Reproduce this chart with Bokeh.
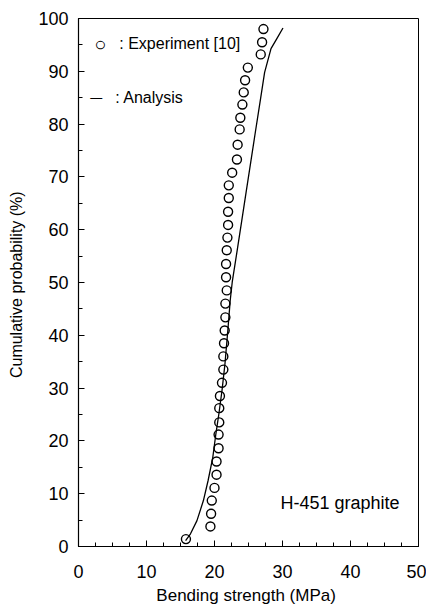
from bokeh.plotting import figure
from bokeh.models import Label, Range1d, SingleIntervalTicker, ColumnDataSource
from bokeh.embed import file_html
from bokeh.resources import INLINE

# Experiment [10]: bending strength (MPa) and cumulative probability (%)
exp_strength = [15.8, 19.4, 19.5, 19.6, 20.0, 20.3, 20.3, 20.6, 20.6, 20.7,
                20.7, 20.8, 21.1, 21.3, 21.3, 21.4, 21.5, 21.6, 21.6, 21.8,
                21.7, 21.7, 21.8, 21.9, 22.0, 22.0, 22.1, 22.1, 22.6, 23.3,
                23.4, 23.7, 23.8, 24.1, 24.3, 24.5, 24.9, 26.8, 27.0, 27.2]
exp_prob = [1.4, 3.8, 6.2, 8.7, 11.1, 13.6, 16.1, 18.6, 21.2, 23.5,
            26.2, 28.5, 31.0, 33.5, 36.0, 38.5, 40.9, 43.4, 46.0, 48.5,
            51.0, 53.5, 56.1, 58.5, 60.9, 63.4, 66.0, 68.4, 70.8, 73.3,
            76.1, 79.0, 81.2, 83.7, 86.0, 88.3, 90.7, 93.2, 95.5, 98.0]

# Analysis curve
curve_strength = [15.75, 16.47, 17.42, 18.37, 19.06, 19.75, 20.20, 20.64, 21.10,
                  21.54, 21.96, 22.31, 22.61, 23.29, 23.97, 24.65, 25.33, 26.01,
                  26.69, 27.37, 28.31, 29.17, 30.07]
curve_prob = [1.1, 2.4, 4.9, 8.7, 12.5, 16.9, 21.3, 25.1, 29.5,
              34.6, 40.9, 46.6, 50.1, 55.7, 61.4, 67.1, 72.8, 78.5,
              84.1, 89.8, 94.3, 96.2, 98.2]

FONT = "Liberation Sans"

p = figure(width=426, height=607, output_backend="svg", toolbar_location=None,
           x_range=Range1d(0, 50), y_range=Range1d(0, 100),
           min_border_left=78, min_border_right=8, min_border_top=18,
           min_border_bottom=61)

p.xgrid.visible = False
p.ygrid.visible = False
p.background_fill_color = "white"
p.border_fill_color = "white"
p.outline_line_color = "black"
p.outline_line_width = 1

p.xaxis.ticker = SingleIntervalTicker(interval=10, num_minor_ticks=4)
p.yaxis.ticker = SingleIntervalTicker(interval=10, num_minor_ticks=2)

for ax in (p.xaxis, p.yaxis):
    ax.axis_line_color = "black"
    ax.axis_line_width = 1.2
    ax.major_tick_in = 6
    ax.major_tick_out = 0
    ax.minor_tick_in = 4
    ax.minor_tick_out = 0
    ax.major_tick_line_color = "black"
    ax.minor_tick_line_color = "black"
    ax.major_label_text_font = FONT
    ax.major_label_text_font_size = "18px"
    ax.major_label_text_color = "black"
    ax.axis_label_text_font = FONT
    ax.axis_label_text_font_style = "normal"
    ax.axis_label_text_color = "black"

p.xaxis.axis_label = "Bending strength  (MPa)"
p.yaxis.axis_label = "Cumulative probability  (%)"
p.xaxis.axis_label_text_font_size = "17px"
p.yaxis.axis_label_text_font_size = "16px"
p.xaxis.major_label_standoff = 18
p.xaxis.axis_label_standoff = 5
p.yaxis.major_label_standoff = 10
p.yaxis.axis_label_standoff = 10

exp_src = ColumnDataSource(dict(x=exp_strength, y=exp_prob))
curve_src = ColumnDataSource(dict(x=curve_strength, y=curve_prob))

p.line("x", "y", source=curve_src, line_color="black", line_width=1.3)
p.scatter("x", "y", source=exp_src, marker="circle", size=9,
          fill_color=None, line_color="black", line_width=1.4)

# legend-like annotations
p.add_layout(Label(x=3.2, y=95.2, text="○", text_font=FONT, text_font_size="20px",
                   text_align="center", text_baseline="middle", text_color="black"))
p.add_layout(Label(x=6.0, y=95.2, text=": Experiment [10]", text_font=FONT,
                   text_font_size="16px", text_baseline="middle", text_color="black"))
p.add_layout(Label(x=2.6, y=85.0, text="—", text_font=FONT, text_font_size="12px",
                   text_align="center", text_baseline="middle", text_color="black"))
p.add_layout(Label(x=5.4, y=85.0, text=": Analysis", text_font=FONT,
                   text_font_size="16px", text_baseline="middle", text_color="black"))
p.add_layout(Label(x=29.7, y=8.3, text="H-451 graphite", text_font=FONT,
                   text_font_size="18px", text_baseline="middle", text_color="black"))

open("out.html", "w").write(file_html(p, INLINE))
